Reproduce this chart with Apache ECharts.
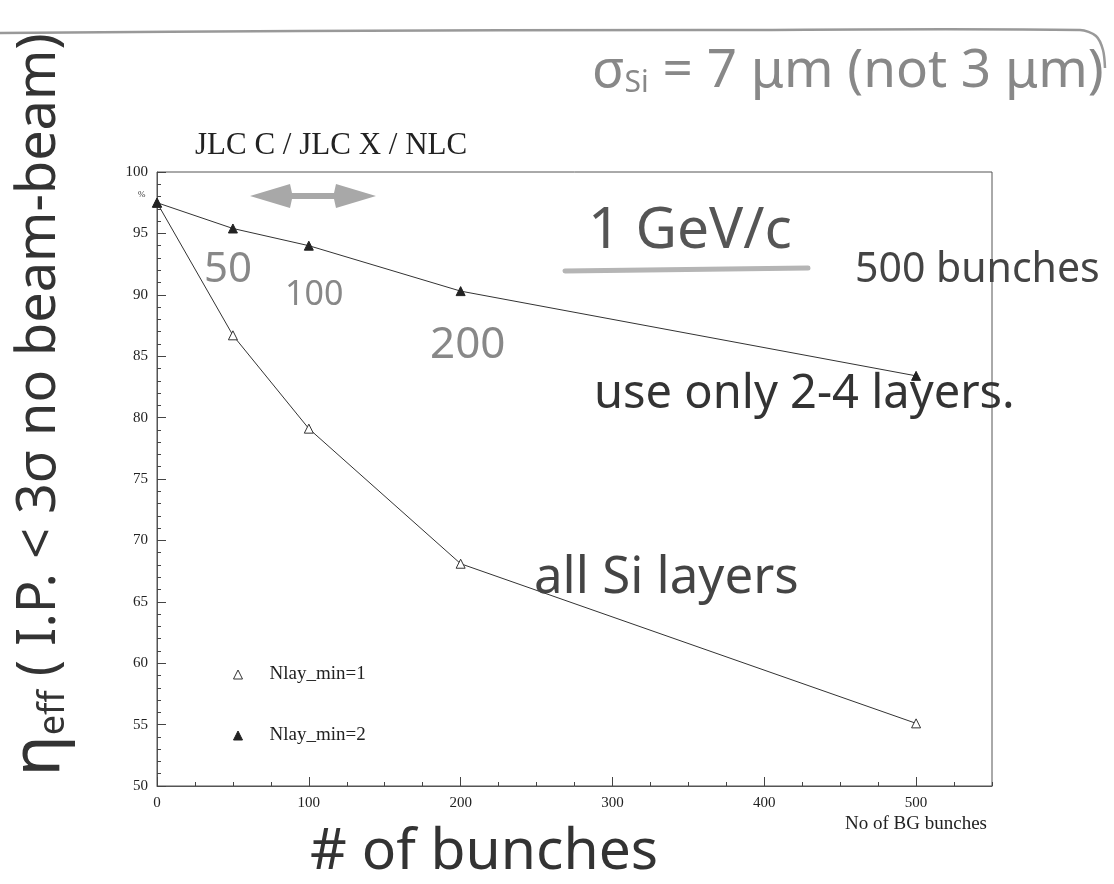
<!DOCTYPE html>
<html>
<head>
<meta charset="utf-8">
<script src="https://cdn.jsdelivr.net/npm/echarts@6/dist/echarts.min.js"></script>
<style>html,body{margin:0;padding:0;background:#fff}#c{width:1114px;height:884px}</style>
</head>
<body>
<div id="c"></div>
<script>
// ---- data ----
const bunches = [0, 50, 100, 200, 500];
const nlay1 = [97.5, 86.7, 79.1, 68.1, 55.1];   // open triangles
const nlay2 = [97.5, 95.4, 94.0, 90.3, 83.4];   // filled triangles
const seriesNames = ['Nlay_min=1', 'Nlay_min=2'];
const xTicks = [0, 100, 200, 300, 400, 500];
const yTicks = [50, 55, 60, 65, 70, 75, 80, 85, 90, 95, 100];

const serif = '"Liberation Serif","DejaVu Serif",serif';
const hand = '"Noto Sans","DejaVu Sans",sans-serif';

const chart = echarts.init(document.getElementById('c'), null, {renderer: 'canvas'});

const pairs = (ys) => bunches.map((x, i) => [x, ys[i]]);

function note(x, y, text, size, color) {
  return {type: 'text', x: x, y: y, z: 5,
    style: {text: text, fontFamily: hand, fontSize: size, fill: color, verticalAlign: 'middle'}};
}

const option = {
  backgroundColor: '#fff',
  animation: false,
  grid: {left: 157, top: 172, width: 835, height: 614, show: true, borderColor: '#555', borderWidth: 1, backgroundColor: 'transparent'},
  legend: {
    left: 228, top: 660, orient: 'vertical', itemGap: 42, itemWidth: 9, itemHeight: 9,
    textStyle: {fontFamily: serif, fontSize: 19, color: '#222', padding: [0, 0, 0, 22]},
    data: [
      {name: seriesNames[0], icon: 'triangle', itemStyle: {color: '#fff', borderColor: '#333', borderWidth: 1}},
      {name: seriesNames[1], icon: 'triangle', itemStyle: {color: '#222', borderColor: '#222', borderWidth: 1}}
    ]
  },
  xAxis: [
    {
      type: 'value', min: 0, max: 550, interval: 100, position: 'bottom',
      axisLine: {show: true, onZero: false, lineStyle: {color: '#555'}},
      axisTick: {inside: true, length: 9, lineStyle: {color: '#444'}},
      axisLabel: {showMaxLabel: false, fontFamily: serif, fontSize: 15, color: '#222', margin: 10,
        formatter: (v) => xTicks.includes(v) ? String(v) : ''},
      splitLine: {show: false}
    },
    {
      type: 'value', min: 0, max: 550, interval: 25, position: 'bottom',
      axisLine: {show: false, onZero: false},
      axisTick: {inside: true, length: 4, lineStyle: {color: '#444'}},
      axisLabel: {show: false},
      splitLine: {show: false}
    }
  ],
  yAxis: {
    type: 'value', min: 50, max: 100, interval: 5,
    axisLine: {show: true, onZero: false, lineStyle: {color: '#555'}},
    axisTick: {inside: true, length: 9, lineStyle: {color: '#444'}},
    minorTick: {show: true, splitNumber: 5, length: 4, lineStyle: {color: '#444'}},
    axisLabel: {fontFamily: serif, fontSize: 15, color: '#222', margin: 9,
      formatter: (v) => yTicks.includes(v) ? String(v) : ''},
    splitLine: {show: false}, minorSplitLine: {show: false}
  },
  series: [
    {
      name: seriesNames[0], type: 'line', xAxisIndex: 0, data: pairs(nlay1),
      symbol: 'triangle', symbolSize: 9, showAllSymbol: true,
      lineStyle: {color: '#333', width: 1},
      itemStyle: {color: '#fff', borderColor: '#333', borderWidth: 1}
    },
    {
      name: seriesNames[1], type: 'line', xAxisIndex: 0, data: pairs(nlay2),
      symbol: 'triangle', symbolSize: 9, showAllSymbol: true,
      lineStyle: {color: '#333', width: 1},
      itemStyle: {color: '#222', borderColor: '#222', borderWidth: 1}
    }
  ],
  graphic: [
    // top hand-drawn frame line
    {type: 'polyline', z: 1, shape: {points: [[0, 33], [300, 31], [700, 30], [1080, 30], [1096, 36], [1103, 50], [1105, 68]], smooth: 0.3},
      style: {stroke: '#999', lineWidth: 2.5, fill: null}},
    // rotated handwritten y-axis label
    {type: 'text', x: 40, y: 405, rotation: Math.PI / 2, z: 5,
      style: {text: '{a|η}{b|eff}{c| ( I.P. < 3σ no beam-beam)}', align: 'center', verticalAlign: 'middle',
        rich: {
          a: {fontFamily: hand, fontSize: 68, fill: '#333'},
          b: {fontFamily: hand, fontSize: 36, fill: '#333', padding: [28, 0, 0, 0]},
          c: {fontFamily: hand, fontSize: 54, fill: '#333'}
        }}},
    {type: 'text', x: 138, y: 190, z: 5, style: {text: '%', fontFamily: serif, fontSize: 9, fill: '#333'}},
    // sigma annotation
    {type: 'text', x: 592, y: 72, z: 5,
      style: {text: '{a|σ}{b|Si}{a| = 7 μm (not 3 μm)}', verticalAlign: 'middle',
        rich: {
          a: {fontFamily: hand, fontSize: 53, fill: '#888'},
          b: {fontFamily: hand, fontSize: 30, fill: '#888', padding: [22, 0, 0, 0]}
        }}},
    // machine label
    {type: 'text', x: 195, y: 146, z: 5, style: {text: 'JLC C / JLC X / NLC', fontFamily: serif, fontSize: 31, fill: '#222', verticalAlign: 'middle'}},
    // grey double arrow
    {type: 'polygon', z: 5, shape: {points: [[250, 196], [290, 184], [292, 193], [334, 193], [336, 184], [376, 196], [336, 208], [334, 199], [292, 199], [290, 208]]},
      style: {fill: '#a8a8a8'}},
    // 1 GeV/c
    note(588, 232, '1 GeV/c', 57, '#555'),
    {type: 'line', z: 4, shape: {x1: 565, y1: 271, x2: 808, y2: 268}, style: {stroke: '#b5b5b5', lineWidth: 5, lineCap: 'round'}},
    note(855, 270, '500 bunches', 41, '#444'),
    // bunch numbers
    note(204, 270, '50', 42, '#888'),
    note(285, 295, '100', 34, '#888'),
    note(430, 345, '200', 44, '#888'),
    // layer notes
    note(594, 395, 'use only 2-4 layers.', 47, '#333'),
    note(534, 578, 'all Si layers', 51, '#444'),
    // x axis titles
    {type: 'text', x: 845, y: 824, z: 5, style: {text: 'No of BG bunches', fontFamily: serif, fontSize: 19, fill: '#222', verticalAlign: 'middle'}},
    note(310, 853, '# of bunches', 57, '#333')
  ]
};
chart.setOption(option);
</script>
</body>
</html>
